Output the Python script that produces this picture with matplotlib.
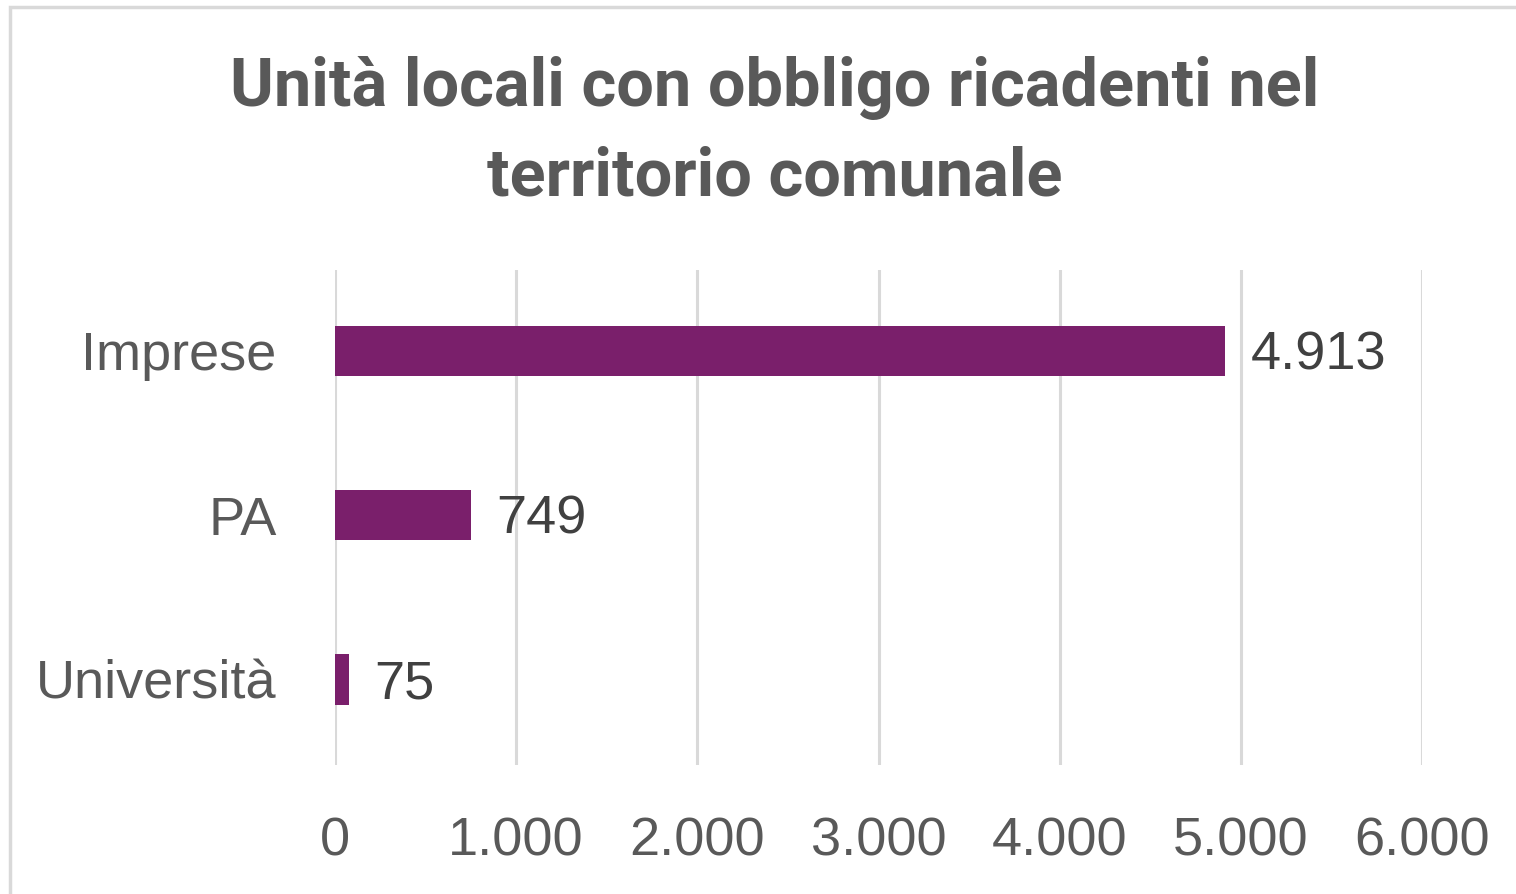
import matplotlib.pyplot as plt
from matplotlib.patches import Rectangle

categories = ["Imprese", "PA", "Università"]
values = [4913, 749, 75]
value_labels = ["4.913", "749", "75"]
x_ticks = [0, 1000, 2000, 3000, 4000, 5000, 6000]
x_tick_labels = ["0", "1.000", "2.000", "3.000", "4.000", "5.000", "6.000"]

BAR_COLOR = "#7A1F6B"
GRID_COLOR = "#D9D9D9"
TEXT_COLOR = "#595959"
LABEL_COLOR = "#404040"

plt.rcParams["font.family"] = ["Liberation Sans", "DejaVu Sans"]

fig = plt.figure(figsize=(15.16, 8.94), dpi=100)
W, H = 1516, 894

# outer chart border (top/left only visible in the crop)
fig.patches.append(Rectangle((10 / W, -0.05), 1.2, (894 - 7) / H + 0.05,
                             transform=fig.transFigure, fill=False,
                             edgecolor="#D9D9D9", linewidth=2.5))

ax = fig.add_axes([335 / W, 1 - 765 / H, (1422 - 335) / W, (765 - 270) / H])

y = list(range(len(categories)))
ax.barh(y, values, height=0.305, color=BAR_COLOR, zorder=3)
ax.set_ylim(len(categories) - 0.5 + 0.02, -0.5 + 0.01)
ax.set_xlim(0, 6000)

for yi, v, lab in zip(y, values, value_labels):
    ax.text(v + 140, yi + 0.03, lab, va="center", ha="left", fontsize=39,
            color=LABEL_COLOR, zorder=4)

ax.set_xticks(x_ticks)
ax.set_xticklabels(x_tick_labels)
ax.set_yticks(y)
ax.set_yticklabels(categories)
ax.tick_params(axis="x", length=0, pad=37, labelsize=39, labelcolor=TEXT_COLOR)
ax.tick_params(axis="y", length=0, pad=42, labelsize=39, labelcolor=TEXT_COLOR)
ax.grid(axis="x", color=GRID_COLOR, linewidth=2.2, zorder=0)
for s in ax.spines.values():
    s.set_visible(False)

fig.text(775 / W, 1 - 133 / H, "Unità locali con obbligo ricadenti nel\nterritorio comunale",
         ha="center", va="center", fontsize=48, fontweight="bold",
         color=TEXT_COLOR, family=["Roboto", "DejaVu Sans"], linespacing=1.5)

fig.savefig("out.png", dpi=100)
